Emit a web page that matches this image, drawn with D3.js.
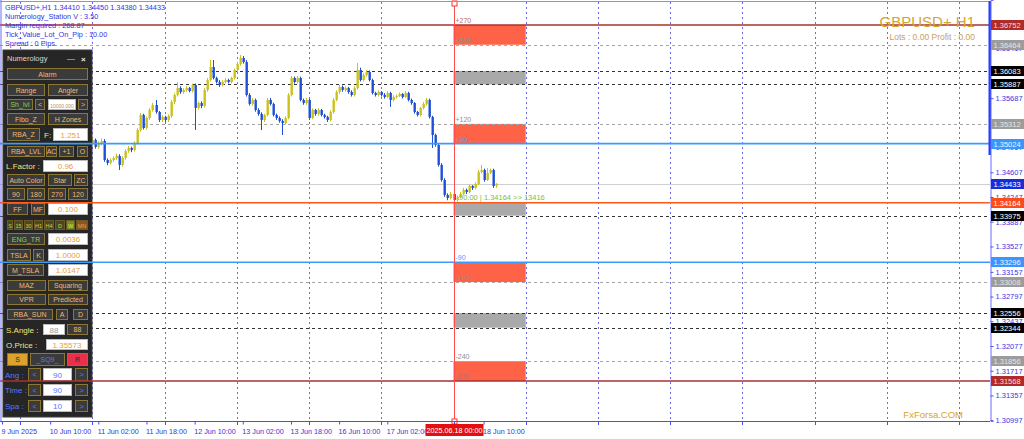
<!DOCTYPE html>
<html><head><meta charset="utf-8">
<script src="https://cdn.jsdelivr.net/npm/d3@7/dist/d3.min.js"></script>
<style>
body{margin:0;background:#fff;}
svg{display:block;font-family:"Liberation Sans",Arial,sans-serif;}
</style></head><body>
<svg id="c" width="1024" height="439"></svg>
<script>
// ---------- DATA ----------
const symbolTitle = "GBPUSD+ H1";
const infoLines = [
  "GBPUSD+,H1  1.34410 1.34450 1.34380 1.34433",
  "Numerology_Station V : 3.50",
  "Margin required : 268.87",
  "Tick_Value_Lot_On_Pip : 10.00",
  "Spread : 0 Pips"
];
const firstBar = 28;           // index of first candle listed (bar 0 = 9 Jun 18:00)
const ohlc = [
[1.34990,1.35040,1.34960,1.35005],[1.35005,1.35060,1.34980,1.35034],[1.35034,1.35110,1.35010,1.35078],
[1.35078,1.35100,1.34950,1.34976],[1.34976,1.35060,1.34950,1.35034],[1.35034,1.35100,1.35000,1.35063],
[1.35063,1.35090,1.34760,1.34786],[1.34786,1.34810,1.34710,1.34743],[1.34743,1.34810,1.34720,1.34786],
[1.34786,1.34840,1.34760,1.34816],[1.34816,1.34880,1.34790,1.34845],[1.34845,1.34870,1.34641,1.34714],
[1.34714,1.34840,1.34690,1.34816],[1.34816,1.34940,1.34790,1.34917],[1.34917,1.34990,1.34890,1.34961],
[1.34961,1.34980,1.34900,1.34932],[1.34932,1.35060,1.34910,1.35034],[1.35034,1.35250,1.35010,1.35223],
[1.35223,1.35470,1.35200,1.35442],[1.35442,1.35460,1.35230,1.35252],[1.35252,1.35420,1.35230,1.35398],
[1.35398,1.35540,1.35370,1.35514],[1.35514,1.35620,1.35490,1.35587],[1.35587,1.35660,1.35460,1.35485],
[1.35485,1.35500,1.35340,1.35369],[1.35369,1.35440,1.35340,1.35413],[1.35413,1.35430,1.35340,1.35369],
[1.35369,1.35450,1.35340,1.35427],[1.35427,1.35660,1.35400,1.35631],[1.35631,1.35760,1.35600,1.35733],
[1.35733,1.35922,1.35710,1.35835],[1.35835,1.35860,1.35750,1.35776],[1.35776,1.35830,1.35750,1.35806],
[1.35806,1.35860,1.35780,1.35835],[1.35835,1.35850,1.35770,1.35791],[1.35791,1.35900,1.35770,1.35878],
[1.35878,1.35900,1.35223,1.35544],[1.35544,1.35640,1.35520,1.35616],[1.35616,1.35640,1.35540,1.35573],
[1.35573,1.35830,1.35550,1.35806],[1.35806,1.35980,1.35780,1.35951],[1.35951,1.36242,1.35930,1.36141],
[1.36141,1.36242,1.35960,1.35980],[1.35980,1.36000,1.35900,1.35922],[1.35922,1.35950,1.35850,1.35878],
[1.35878,1.35950,1.35860,1.35922],[1.35922,1.35980,1.35900,1.35951],[1.35951,1.35970,1.35900,1.35922],
[1.35922,1.36000,1.35900,1.35980],[1.35980,1.36120,1.35960,1.36097],[1.36097,1.36210,1.36070,1.36184],
[1.36184,1.36315,1.36160,1.36272],[1.36272,1.36300,1.36190,1.36213],[1.36213,1.36240,1.35710,1.35733],
[1.35733,1.35760,1.35580,1.35602],[1.35602,1.35690,1.35580,1.35660],[1.35660,1.35680,1.35490,1.35514],
[1.35514,1.35540,1.35430,1.35456],[1.35456,1.35480,1.35223,1.35369],[1.35369,1.35460,1.35340,1.35442],
[1.35442,1.35690,1.35420,1.35660],[1.35660,1.35690,1.35580,1.35602],[1.35602,1.35620,1.35420,1.35442],
[1.35442,1.35460,1.35370,1.35398],[1.35398,1.35420,1.35330,1.35354],[1.35354,1.35380,1.35150,1.35325],
[1.35325,1.35420,1.35300,1.35398],[1.35398,1.35760,1.35380,1.35733],[1.35733,1.36010,1.35710,1.35980],
[1.35980,1.36000,1.35900,1.35922],[1.35922,1.36010,1.35900,1.35980],[1.35980,1.36000,1.35640,1.35660],
[1.35660,1.35680,1.35590,1.35616],[1.35616,1.35690,1.35590,1.35660],[1.35660,1.35680,1.35370,1.35398],
[1.35398,1.35540,1.35380,1.35514],[1.35514,1.35530,1.35430,1.35456],[1.35456,1.35540,1.35430,1.35514],
[1.35514,1.35530,1.35420,1.35442],[1.35442,1.35460,1.35390,1.35413],[1.35413,1.35430,1.35340,1.35369],
[1.35369,1.35510,1.35350,1.35485],[1.35485,1.35690,1.35460,1.35660],[1.35660,1.35800,1.35640,1.35776],
[1.35776,1.35880,1.35750,1.35849],[1.35849,1.35870,1.35780,1.35806],[1.35806,1.35860,1.35780,1.35835],
[1.35835,1.35850,1.35750,1.35776],[1.35776,1.35800,1.35710,1.35733],[1.35733,1.35860,1.35710,1.35835],
[1.35835,1.36199,1.35810,1.36097],[1.36097,1.36130,1.35930,1.35951],[1.35951,1.36050,1.35930,1.36024],
[1.36024,1.36100,1.36000,1.36068],[1.36068,1.36090,1.35930,1.35951],[1.35951,1.35970,1.35740,1.35762],
[1.35762,1.35780,1.35710,1.35733],[1.35733,1.35800,1.35710,1.35776],[1.35776,1.35790,1.35710,1.35733],
[1.35733,1.35760,1.35680,1.35704],[1.35704,1.35790,1.35690,1.35762],[1.35762,1.35780,1.35560,1.35660],
[1.35660,1.35730,1.35640,1.35704],[1.35704,1.35740,1.35680,1.35718],[1.35718,1.35770,1.35700,1.35747],
[1.35747,1.35760,1.35680,1.35704],[1.35704,1.35790,1.35690,1.35762],[1.35762,1.35780,1.35640,1.35660],
[1.35660,1.35680,1.35590,1.35616],[1.35616,1.35630,1.35460,1.35485],[1.35485,1.35500,1.35420,1.35442],
[1.35442,1.35560,1.35420,1.35544],[1.35544,1.35630,1.35520,1.35602],[1.35602,1.35690,1.35580,1.35660],
[1.35660,1.35680,1.35390,1.35413],[1.35413,1.35430,1.34961,1.35150],[1.35150,1.35170,1.34980,1.35005],
[1.35005,1.35030,1.34690,1.34714],[1.34714,1.34740,1.34470,1.34495],[1.34495,1.34520,1.34250,1.34277],
[1.34277,1.34300,1.34200,1.34233],[1.34233,1.34320,1.34210,1.34291],[1.34291,1.34310,1.34164,1.34204],
[1.34204,1.34270,1.34180,1.34248],[1.34248,1.34320,1.34230,1.34291],[1.34291,1.34380,1.34270,1.34350],
[1.34350,1.34370,1.34290,1.34320],[1.34320,1.34430,1.34300,1.34408],[1.34408,1.34420,1.34350,1.34379],
[1.34379,1.34460,1.34360,1.34437],[1.34437,1.34640,1.34420,1.34612],[1.34612,1.34714,1.34590,1.34641],
[1.34641,1.34660,1.34470,1.34495],[1.34495,1.34670,1.34480,1.34597],[1.34597,1.34660,1.34580,1.34641],
[1.34641,1.34660,1.34380,1.34408],[1.34410,1.34450,1.34380,1.34433]
];
const levelPrices = [1.36752,1.36464,1.36083,1.35887,1.35312,1.35024,1.34433,1.34164,1.33975,1.33296,1.33008,1.32556,1.32344,1.31856,1.31568];
const levelKinds  = ["outer","gray","black","black","gray","blue","bid","origin","black","blue","gray","black","black","gray","outer"];
const zoneTop    = [1.36752,1.36083,1.35312,1.34164,1.33296,1.32556,1.31856];
const zoneBottom = [1.36464,1.35887,1.35024,1.33975,1.33008,1.32344,1.31568];
const zoneKinds  = ["red","gray","red","gray","red","gray","red"];
const angleTexts  = ["+270","+240","+120","+90","-90","-120","-240","-270"];
const anglePrices = [1.36752,1.36464,1.35312,1.35024,1.33296,1.33008,1.31856,1.31568];
const angleKinds  = ["outer","gray","gray","blue","blue","gray","gray","outer"];
const originBar = 150, zoneEndBar = 174;
const originText = "90.00 | 1.34164  >> 13416";
const originLabel = "2025.06.18 00:00";
const priceTicks = [1.36417,1.35687,1.34967,1.34607,1.34247,1.33887,1.33527,1.33157,1.32797,1.32437,1.32077,1.31717,1.31357,1.30997];
const timeTickBars = [0,16,32,48,64,80,96,112,128,160];
const timeLabels = ["9 Jun 2025","10 Jun 10:00","11 Jun 02:00","11 Jun 18:00","12 Jun 10:00","13 Jun 02:00","13 Jun 18:00","16 Jun 10:00","17 Jun 02:00","18 Jun 10:00"];
const daySeparatorBars = [6,30,54,78,102,126,174,198,222,246,270,294,318];

// ---------- STYLES ----------
const lineStyle = {
  outer:{stroke:"#a8302e",w:1.6,dash:null},
  gray:{stroke:"#a6a6a6",w:1,dash:"3,3"},
  black:{stroke:"#333",w:1,dash:"3,3"},
  blue:{stroke:"#3a9bff",w:1.6,dash:null},
  bid:{stroke:"#cfcfcf",w:1,dash:null},
  origin:{stroke:"#ff5a1a",w:1.6,dash:null}
};
const tagStyle = {
  outer:{bg:"#b02a2a",fg:"#f4dede"}, gray:{bg:"#9c9c9c",fg:"#e6e6e6"}, black:{bg:"#000",fg:"#fff"},
  blue:{bg:"#3a95ff",fg:"#eef4ff"}, bid:{bg:"#1c2bd8",fg:"#fff"}, origin:{bg:"#ff4a1a",fg:"#fff"}
};
const angleColor = {outer:"#b07070", gray:"#8e8e8e", blue:"#4a9cff"};
const zoneFill = {red:"#ff6347", gray:"#a9a9a9"};

// ---------- SCALES ----------
const svg = d3.select("#c");
const plotR = 990, plotB = 421;
const y = d3.scaleLinear().domain([1.30985,1.37116]).range([plotB,0]);
const x = d3.scaleLinear().domain([0,328]).range([2,2+3.01*328]);
const rx = v => Math.round(x(v)) + 0.5;

svg.append("rect").attr("width",1024).attr("height",439).attr("fill","#fff");

// day separators
svg.append("g").selectAll("line").data(daySeparatorBars).join("line")
  .attr("x1",d=>rx(d)).attr("x2",d=>rx(d)).attr("y1",2).attr("y2",plotB)
  .attr("stroke","#6a6af0").attr("stroke-width",1).attr("stroke-dasharray","2,3");

// zones
svg.append("g").selectAll("rect").data(zoneKinds).join("rect")
  .attr("x",x(originBar)).attr("width",x(zoneEndBar)-x(originBar))
  .attr("y",(d,i)=>y(zoneTop[i])).attr("height",(d,i)=>y(zoneBottom[i])-y(zoneTop[i]))
  .attr("fill",d=>zoneFill[d]);

// horizontal dashed / bid lines (under panel)
const under = levelPrices.map((p,i)=>({p,k:levelKinds[i]})).filter(d=>d.k==="gray"||d.k==="black"||d.k==="bid");
svg.append("g").selectAll("line").data(under).join("line")
  .attr("x1",0).attr("x2",plotR).attr("y1",d=>Math.round(y(d.p))+0.5).attr("y2",d=>Math.round(y(d.p))+0.5)
  .attr("stroke",d=>lineStyle[d.k].stroke).attr("stroke-width",d=>lineStyle[d.k].w)
  .attr("stroke-dasharray",d=>lineStyle[d.k].dash);

// candles
const cg = svg.append("g");
ohlc.forEach((c,k)=>{
  const i = firstBar+k, cx = rx(i);
  const bull = c[3] >= c[0];
  const col = bull ? "#c9c21c" : "#1f4fd8";
  cg.append("line").attr("x1",cx).attr("x2",cx).attr("y1",y(c[1])).attr("y2",y(c[2]))
    .attr("stroke",col).attr("stroke-width",1);
  const t = y(Math.max(c[0],c[3])), b = y(Math.min(c[0],c[3]));
  cg.append("rect").attr("x",cx-1).attr("width",2.4).attr("y",t).attr("height",Math.max(1,b-t))
    .attr("fill",col);
});

// ---------- PANEL ----------
const P = svg.append("g").attr("font-size",7);
P.append("rect").attr("x",3).attr("y",50).attr("width",89).attr("height",367).attr("fill","#262626").attr("stroke","#3a3a3a");
P.append("text").attr("x",7).attr("y",61).attr("fill","#d8d8d8").attr("font-size",7.5).text("Numerology");
P.append("text").attr("x",67).attr("y",61).attr("fill","#ddd").attr("font-size",8).text("—");
P.append("text").attr("x",81).attr("y",61.5).attr("fill","#eee").attr("font-size",8).attr("font-weight","bold").text("×");
const G="#7fd35a", Y="#f3e27a", B="#5a78ff", O="#e6a040";
function item(y0,y1,it){
  const [t] = it;
  if(t==="b"){
    const [_,a,b2,txt,st] = it; const s = st||{};
    P.append("rect").attr("x",a+0.5).attr("y",y0+0.5).attr("width",b2-a-1).attr("height",y1-y0-1)
      .attr("fill",s.bg||"#3b3b3b").attr("stroke",s.border||"#8c7634").attr("stroke-width",1);
    P.append("text").attr("x",(a+b2)/2).attr("y",(y0+y1)/2+2.5).attr("text-anchor","middle")
      .attr("fill",s.color||"#f2b872").attr("font-size",s.fs||7).text(txt);
  } else if(t==="i"){
    const [_,a,b2,txt,col,fs] = it;
    P.append("rect").attr("x",a+0.5).attr("y",y0+0.5).attr("width",b2-a-1).attr("height",y1-y0-1)
      .attr("fill","#fff").attr("stroke","#bbb");
    P.append("text").attr("x",(a+b2)/2).attr("y",(y0+y1)/2+3).attr("text-anchor","middle")
      .attr("fill",col||O).attr("font-size",fs||8).text(txt);
  } else {
    const [_,a,txt,col] = it;
    P.append("text").attr("x",a).attr("y",(y0+y1)/2+3).attr("fill",col).attr("font-size",8).text(txt);
  }
}
const tf = [["S",7,13,"#4a4820","#d8c84a"],["15",14,23,"#4a4820","#d8c84a"],["30",24,33,"#4a4820","#d8c84a"],["H1",34,43,"#4a4820","#d8c84a"],["H4",44,54,"#4a4820","#d8c84a"],["D",55,65,"#4a4820","#d8c84a"],["W",66,75,"#6f8f22","#e8e050"],["MN",76,88,"#8a5520","#f0a040"]];
const rows = [
 [68,80,[["b",7,88,"Alarm"]]],
 [84,96,[["b",7,45,"Range"],["b",48,88,"Angler"]]],
 [99,110,[["b",7,33,"Sh_lvl",{color:G}],["b",35,45,"<"],["i",48,76,"10000.000","#c08a50",5],["b",78,88,">"]]],
 [113,125,[["b",7,45,"Fibo_Z"],["b",48,88,"H Zones"]]],
 [128,141,[["b",7,40,"RBA_Z"],["l",44,"F:",Y],["i",53,88,"1.251"]]],
 [146,157,[["b",7,45,"RBA_LVL"],["b",46,57,"AC"],["b",59,74,"+1"],["b",77,88,"O"]]],
 [160,172,[["l",6,"L.Factor :",Y],["i",43,88,"0.96"]]],
 [174,186,[["b",7,45,"Auto Color"],["b",48,72,"Star"],["b",74,88,"ZC"]]],
 [188,200,[["b",7,25,"90"],["b",27,45,"180"],["b",48,66,"270"],["b",68,88,"120"]]],
 [203,215,[["b",7,28,"FF"],["b",31,45,"MF"],["i",48,88,"0.100"]]],
 [220,230,tf.map(t=>["b",t[1],t[2],t[0],{bg:t[3],color:t[4],border:"#6a5a2a",fs:5.5}])],
 [233,245,[["b",7,45,"ENG_TR",{color:G}],["i",48,88,"0.0036"]]],
 [249,261,[["b",7,31,"TSLA"],["b",33,44,"K"],["i",48,88,"1.0000"]]],
 [264,276,[["b",7,44,"M_TSLA"],["i",48,88,"1.0147"]]],
 [280,291,[["b",7,46,"MAZ"],["b",48,88,"Squaring"]]],
 [294,305,[["b",7,46,"VPR"],["b",48,88,"Predicted"]]],
 [309,320,[["b",7,53,"RBA_SUN"],["b",56,68,"A"],["b",73,88,"D"]]],
 [324,335,[["l",6,"S.Angle :",Y],["i",43,65,"88","#9a9a9a"],["b",67,88,"88"]]],
 [339,350,[["l",6,"O.Price :",Y],["i",46,88,"1.35573"]]],
 [353,366,[["b",7,28,"S",{bg:"#dca22c",color:"#2a2a2a"}],["b",30,65,"_SQ9_",{color:B}],["b",67,88,"R",{bg:"#e8304a",color:"#2a2a2a"}]]],
 [368,381,[["l",5,"Ang :",B],["b",28,41,"<",{color:B}],["i",43,72,"90",B],["b",75,88,">",{color:B}]]],
 [384,396,[["l",5,"Time :",B],["b",28,41,"<",{color:B}],["i",43,72,"90",B],["b",75,88,">",{color:B}]]],
 [400,412,[["l",5,"Spa :",B],["b",28,41,"<",{color:B}],["i",43,72,"10",B],["b",75,88,">",{color:B}]]]
];
rows.forEach(r=>r[2].forEach(it=>item(r[0],r[1],it)));

// solid lines over panel
const over = levelPrices.map((p,i)=>({p,k:levelKinds[i]})).filter(d=>d.k==="outer"||d.k==="blue"||d.k==="origin");
svg.append("g").selectAll("line").data(over).join("line")
  .attr("x1",0).attr("x2",plotR).attr("y1",d=>y(d.p)).attr("y2",d=>y(d.p))
  .attr("stroke",d=>lineStyle[d.k].stroke).attr("stroke-width",d=>lineStyle[d.k].w);

// origin vertical line
const ox = rx(originBar);
svg.append("line").attr("x1",ox).attr("x2",ox).attr("y1",3).attr("y2",plotB).attr("stroke","#ff4d4d").attr("stroke-width",1);
[1,419].forEach(yy=>svg.append("rect").attr("x",ox-2.5).attr("y",yy).attr("width",5).attr("height",5)
  .attr("fill","#fff").attr("stroke","#ff3030").attr("stroke-width",1));

// angle labels
svg.append("g").attr("font-size",7).selectAll("text").data(angleTexts).join("text")
  .attr("x",ox+1).attr("y",(d,i)=>y(anglePrices[i])-2)
  .attr("fill",(d,i)=>angleColor[angleKinds[i]]).text(d=>d);
svg.append("text").attr("x",459).attr("y",y(1.34164)-2.5).attr("font-size",7.5).attr("fill","#78bf3c").text(originText);

// info text
svg.append("g").attr("font-size",7.3).attr("fill","#3535e0").selectAll("text").data(infoLines).join("text")
  .attr("x",5).attr("y",(d,i)=>9.5+9.2*i).text(d=>d);

// frame
svg.append("line").attr("x1",0).attr("x2",plotR).attr("y1",1.5).attr("y2",1.5).attr("stroke","#8a8aff");
svg.append("line").attr("x1",1).attr("x2",1).attr("y1",0).attr("y2",plotB).attr("stroke","#6b6bff");
svg.append("rect").attr("x",988.5).attr("y",1).attr("width",2.5).attr("height",154).attr("fill","#2040ff");

// right axis
const ay = svg.append("g").attr("transform",`translate(${plotR+0.5},0)`)
  .call(d3.axisRight(y).tickValues(priceTicks).tickFormat(d3.format(".5f")).tickSize(3).tickPadding(2));
ay.select(".domain").attr("stroke","#6b6bff");
ay.selectAll("line").attr("stroke","#5050ee");
ay.selectAll("text").attr("fill","#3a3ae0").attr("font-size",7.5).attr("font-family","Liberation Sans, Arial, sans-serif");

// price tags
const tags = svg.append("g");
levelPrices.forEach((p,i)=>{
  const s = tagStyle[levelKinds[i]], yy = y(p);
  tags.append("rect").attr("x",991).attr("y",Math.round(yy)-5).attr("width",33).attr("height",10).attr("fill",s.bg);
  tags.append("text").attr("x",993.5).attr("y",Math.round(yy)+3).attr("font-size",7.5).attr("fill",s.fg).text(d3.format(".5f")(p));
});

// bottom axis
const ax = svg.append("g").attr("transform",`translate(0,${plotB+0.5})`)
  .call(d3.axisBottom(x).tickValues(timeTickBars).tickFormat((d,i)=>timeLabels[i]).tickSize(3).tickPadding(4));
ax.select(".domain").attr("stroke","#4a4aff").attr("d",`M0,0H${plotR}`);
ax.selectAll("line").attr("stroke","#4a4aff");
ax.selectAll("text").attr("fill","#3535d8").attr("font-size",7.2).attr("text-anchor","start")
  .attr("dx",-1).attr("font-family","Liberation Sans, Arial, sans-serif");
svg.append("g").selectAll("line").data(daySeparatorBars.concat([originBar])).join("line")
  .attr("x1",d=>rx(d)).attr("x2",d=>rx(d)).attr("y1",plotB).attr("y2",plotB+4).attr("stroke","#4a4aff");
svg.append("rect").attr("x",ox-29).attr("y",424).attr("width",58).attr("height",12).attr("fill","#e41010");
svg.append("text").attr("x",ox).attr("y",433).attr("text-anchor","middle").attr("font-size",7.2).attr("fill","#fff").text(originLabel);

// titles
svg.append("text").attr("x",975).attr("y",27).attr("text-anchor","end").attr("font-size",15).attr("fill","#d6a42a").text(symbolTitle);
svg.append("text").attr("x",975).attr("y",39.5).attr("text-anchor","end").attr("font-size",8.5).attr("fill","#caa060").text("Lots : 0.00 Profit : 0.00");
svg.append("text").attr("x",963).attr("y",418).attr("text-anchor","end").attr("font-size",9.5).attr("fill","#d6a42a").text("FxForsa.COM");
</script>
</body></html>
